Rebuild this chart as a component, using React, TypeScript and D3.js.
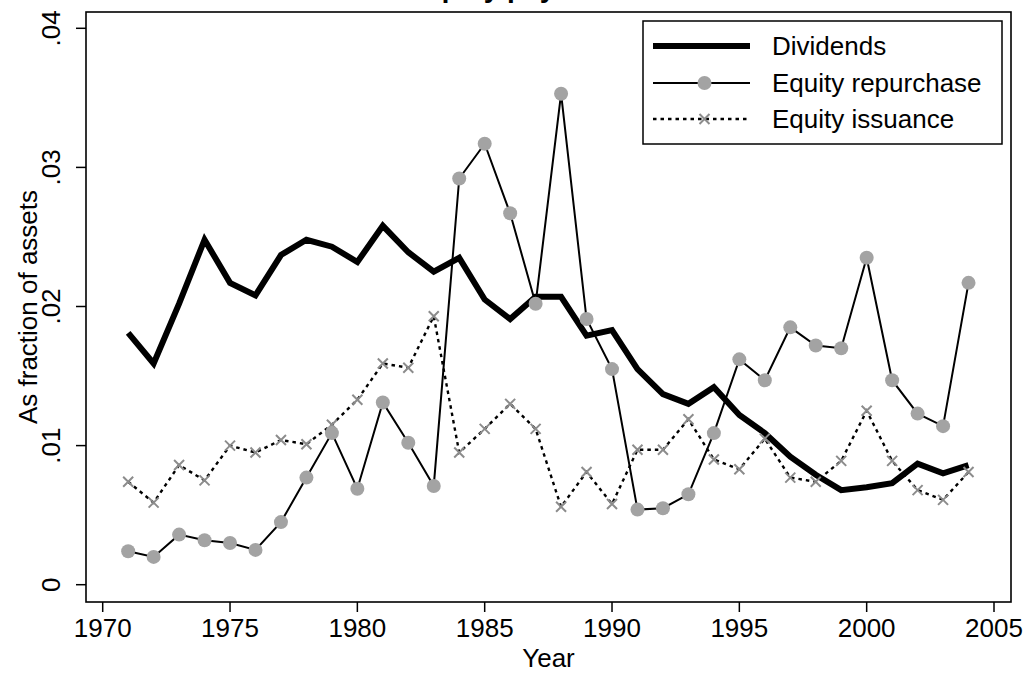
import React from "react";
import * as d3 from "d3";

const years = [
  1971, 1972, 1973, 1974, 1975, 1976, 1977, 1978, 1979, 1980, 1981, 1982,
  1983, 1984, 1985, 1986, 1987, 1988, 1989, 1990, 1991, 1992, 1993, 1994,
  1995, 1996, 1997, 1998, 1999, 2000, 2001, 2002, 2003, 2004,
];

const dividends = [
  0.0181, 0.0159, 0.0202, 0.0248, 0.0217, 0.0208, 0.0237, 0.0248, 0.0243,
  0.0232, 0.0258, 0.0239, 0.0225, 0.0235, 0.0205, 0.0191, 0.0207, 0.0207,
  0.0179, 0.0183, 0.0155, 0.0137, 0.013, 0.0142, 0.0122, 0.0109, 0.0092,
  0.0079, 0.0068, 0.007, 0.0073, 0.0087, 0.008, 0.0086,
];

const repurchase = [
  0.0024, 0.002, 0.0036, 0.0032, 0.003, 0.0025, 0.0045, 0.0077, 0.0109,
  0.0069, 0.0131, 0.0102, 0.0071, 0.0292, 0.0317, 0.0267, 0.0202, 0.0353,
  0.0191, 0.0155, 0.0054, 0.0055, 0.0065, 0.0109, 0.0162, 0.0147, 0.0185,
  0.0172, 0.017, 0.0235, 0.0147, 0.0123, 0.0114, 0.0217,
];

const issuance = [
  0.0074, 0.0059, 0.0086, 0.0075, 0.01, 0.0095, 0.0104, 0.0101, 0.0115,
  0.0133, 0.0159, 0.0156, 0.0193, 0.0095, 0.0112, 0.013, 0.0112, 0.0056,
  0.0081, 0.0058, 0.0097, 0.0097, 0.0119, 0.009, 0.0083, 0.0105, 0.0077,
  0.0074, 0.0089, 0.0125, 0.0089, 0.0068, 0.0061, 0.0081,
];

const xTicks = [1970, 1975, 1980, 1985, 1990, 1995, 2000, 2005];
const yTicks = [0, 0.01, 0.02, 0.03, 0.04];
const yTickLabels = ["0", ".01", ".02", ".03", ".04"];

const FONT = "'Liberation Sans', Arial, Helvetica, sans-serif";
const W = 1029;
const H = 673;
const frame = { left: 86, top: 12, right: 1011, bottom: 602 };

export default function App() {
  const x = d3.scaleLinear().domain([1970, 2005]).range([102.7, 994]);
  const y = d3.scaleLinear().domain([0, 0.04]).range([584.7, 28.3]);

  const line = (vals: number[]) =>
    d3
      .line<number>()
      .x((_, i) => x(years[i]))
      .y((v) => y(v))(vals) as string;

  const cross = (cx: number, cy: number, k = 5) =>
    `M${cx - k},${cy - k}L${cx + k},${cy + k}M${cx - k},${cy + k}L${cx + k},${cy - k}`;

  // legend rows
  const legX0 = 653;
  const legX1 = 750;
  const legTextX = 772;
  const rows = [
    { label: "Dividends", base: 55 },
    { label: "Equity repurchase", base: 92 },
    { label: "Equity issuance", base: 128 },
  ];

  return (
    <svg
      width={W}
      height={H}
      style={{ position: "absolute", left: 0, top: 0, background: "#fff" }}
      fontFamily={FONT}
    >
      <rect x={0} y={0} width={W} height={H} fill="#fff" />
      {/* title, mostly off the top edge as in the original */}
      <text x={514} y={-3} textAnchor="middle" fontSize={28} fontWeight="bold">
        Equity payouts
      </text>

      {/* series */}
      <path
        d={line(issuance)}
        fill="none"
        stroke="#000"
        strokeWidth={2.4}
        strokeDasharray="3.5,4"
      />
      <path d={line(repurchase)} fill="none" stroke="#000" strokeWidth={2} />
      <path
        d={line(dividends)}
        fill="none"
        stroke="#000"
        strokeWidth={6}
        strokeLinejoin="miter"
      />
      {issuance.map((v, i) => (
        <path
          key={"x" + i}
          d={cross(x(years[i]), y(v))}
          stroke="#8c8c8c"
          strokeWidth={2}
        />
      ))}
      {repurchase.map((v, i) => (
        <circle key={"c" + i} cx={x(years[i])} cy={y(v)} r={7} fill="#a3a3a3" />
      ))}

      {/* frame */}
      <rect
        x={frame.left}
        y={frame.top}
        width={frame.right - frame.left}
        height={frame.bottom - frame.top}
        fill="none"
        stroke="#000"
        strokeWidth={1.6}
      />

      {/* x axis */}
      {xTicks.map((t) => (
        <g key={t}>
          <line x1={x(t)} x2={x(t)} y1={frame.bottom} y2={frame.bottom + 10} stroke="#000" strokeWidth={1.5} />
          <text x={x(t)} y={637} textAnchor="middle" fontSize={26}>
            {t}
          </text>
        </g>
      ))}
      <text x={(frame.left + frame.right) / 2} y={667} textAnchor="middle" fontSize={26}>
        Year
      </text>

      {/* y axis */}
      {yTicks.map((t, i) => (
        <g key={t}>
          <line x1={frame.left - 10} x2={frame.left} y1={y(t)} y2={y(t)} stroke="#000" strokeWidth={1.5} />
          <text
            transform={`translate(60,${y(t)}) rotate(-90)`}
            textAnchor="middle"
            fontSize={26}
          >
            {yTickLabels[i]}
          </text>
        </g>
      ))}
      <text
        transform={`translate(37,${(frame.top + frame.bottom) / 2}) rotate(-90)`}
        textAnchor="middle"
        fontSize={26}
      >
        As fraction of assets
      </text>

      {/* legend */}
      <rect x={643} y={21} width={359} height={123} fill="#fff" stroke="#000" strokeWidth={1.5} />
      {rows.map((r, i) => {
        const ly = r.base - 9;
        const mid = (legX0 + legX1) / 2 + 3;
        return (
          <g key={r.label}>
            {i === 0 && (
              <line x1={legX0} x2={legX1} y1={ly} y2={ly} stroke="#000" strokeWidth={6} />
            )}
            {i === 1 && (
              <>
                <line x1={legX0} x2={legX1} y1={ly} y2={ly} stroke="#000" strokeWidth={2} />
                <circle cx={mid} cy={ly} r={7} fill="#a3a3a3" />
              </>
            )}
            {i === 2 && (
              <>
                <line x1={legX0} x2={legX1} y1={ly} y2={ly} stroke="#000" strokeWidth={2.4} strokeDasharray="3.5,4" />
                <path d={cross(mid, ly)} stroke="#8c8c8c" strokeWidth={2} />
              </>
            )}
            <text x={legTextX} y={r.base} fontSize={26}>
              {r.label}
            </text>
          </g>
        );
      })}
    </svg>
  );
}
